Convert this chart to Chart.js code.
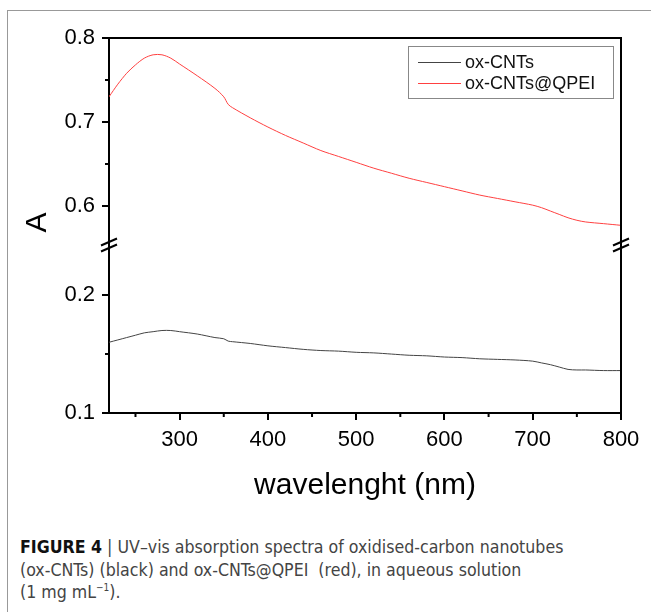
<!DOCTYPE html>
<html>
<head>
<meta charset="utf-8">
<script src="https://cdn.jsdelivr.net/npm/chart.js@4"></script>
<style>
  body { margin: 0; background: #fff; width: 651px; height: 612px; overflow: hidden; position: relative; }
  #frame { position: absolute; left: 7px; top: 10px; right: -2px; bottom: -2px; border-top: 1.5px solid #999; border-left: 1.5px solid #999; }
  #wrap { position: absolute; left: 0; top: 0; width: 651px; height: 520px; }
  #caption { position: absolute; left: 20px; top: 536px; width: 625px;
    font-family: "Liberation Sans Narrow", "DejaVu Sans Condensed", "Liberation Sans", sans-serif;
    font-size: 17.6px; line-height: 22.5px; color: #444; }
  #caption b { color: #111; }
  #caption sup { font-size: 10px; line-height: 0; }
</style>
</head>
<body>
<div id="frame"></div>
<div id="wrap"><canvas id="chart"></canvas></div>
<div id="caption"><b>FIGURE 4</b> | UV–vis absorption spectra of oxidised-carbon nanotubes<br>(ox-CNTs) (black) and ox-CNTs@QPEI&nbsp; (red), in aqueous solution<br>(1 mg mL<sup>−1</sup>).</div>
<script>
// ================= DATA =================
const wavelengths = [220, 230, 240, 250, 260, 270, 280, 290, 300, 320, 340, 350, 355, 360, 380,
    400, 420, 440, 460, 480, 500, 520, 540, 560, 580, 600, 620, 640, 660, 680,
    700, 710, 720, 730, 740, 750, 760, 780, 800];

const qpeiValues = [0.730, 0.745, 0.758, 0.768, 0.776, 0.780, 0.780, 0.776, 0.769, 0.755, 0.740, 0.730, 0.721, 0.717, 0.705,
    0.694, 0.684, 0.675, 0.666, 0.659, 0.652, 0.645, 0.639, 0.633, 0.628, 0.623, 0.618, 0.613, 0.609, 0.605,
    0.601, 0.598, 0.594, 0.590, 0.586, 0.583, 0.581, 0.579, 0.577];

const cntValues = [0.160, 0.162, 0.164, 0.166, 0.168, 0.169, 0.170, 0.170, 0.169, 0.167, 0.164, 0.163, 0.161, 0.1605, 0.159,
    0.157, 0.1555, 0.154, 0.153, 0.1525, 0.1515, 0.151, 0.150, 0.149, 0.1485, 0.1475, 0.147, 0.146, 0.1455, 0.145,
    0.144, 0.1425, 0.141, 0.139, 0.137, 0.1365, 0.1365, 0.136, 0.136];

const seriesLabels = ["ox-CNTs", "ox-CNTs@QPEI"];

const xTicks = [300, 400, 500, 600, 700, 800];
const xMinorTicks = [250, 350, 450, 550, 650, 750];
const yHighTicks = [0.6, 0.7, 0.8];
const yHighMinor = [0.65, 0.75];
const yLowTicks = [0.1, 0.2];
const yLowMinor = [0.15];

const FONT = "'Liberation Sans', Arial, sans-serif";

// ================= PLUGIN: frame, minor ticks, break, legend, y title =================
const extras = {
    id: "extras",
    afterDraw(chart) {
        const ctx = chart.ctx;
        const a = chart.chartArea;
        const xs = chart.scales.x, yh = chart.scales.yHigh, yl = chart.scales.yLow;
        ctx.save();

        // box around plot
        ctx.strokeStyle = "#000";
        ctx.lineWidth = 2;
        ctx.beginPath();
        ctx.moveTo(a.left, a.top);
        ctx.lineTo(a.right, a.top);
        ctx.lineTo(a.right, a.bottom);
        ctx.stroke();

        // minor ticks
        ctx.beginPath();
        xMinorTicks.forEach(v => {
            const px = xs.getPixelForValue(v);
            ctx.moveTo(px, a.bottom);
            ctx.lineTo(px, a.bottom + 4);
        });
        yHighMinor.forEach(v => {
            const py = yh.getPixelForValue(v);
            ctx.moveTo(a.left, py);
            ctx.lineTo(a.left - 4, py);
        });
        yLowMinor.forEach(v => {
            const py = yl.getPixelForValue(v);
            ctx.moveTo(a.left, py);
            ctx.lineTo(a.left - 4, py);
        });
        ctx.stroke();

        // axis break marks
        const by = yh.bottom - 2;
        [a.left, a.right].forEach(bx => {
            ctx.beginPath();
            ctx.lineWidth = 2;
            ctx.moveTo(bx - 8, by - 0.5);
            ctx.lineTo(bx + 8, by - 7.5);
            ctx.moveTo(bx - 8, by + 5.5);
            ctx.lineTo(bx + 8, by - 1.5);
            ctx.stroke();
        });

        // legend
        ctx.lineWidth = 1;
        ctx.strokeStyle = "#888";
        ctx.strokeRect(408.5, 46.5, 205, 52);
        ctx.font = "18px " + FONT;
        ctx.textBaseline = "middle";
        ctx.textAlign = "left";
        const rows = [62, 83];
        chart.data.datasets.forEach((ds, i) => {
            ctx.strokeStyle = ds.borderColor;
            ctx.beginPath();
            ctx.moveTo(418, rows[i] + 0.5);
            ctx.lineTo(461, rows[i] + 0.5);
            ctx.stroke();
            ctx.fillStyle = "#111";
            ctx.fillText(ds.label, 465, rows[i] + 1);
        });

        // y axis title
        ctx.translate(38, (a.top + a.bottom) / 2 - 3);
        ctx.rotate(-Math.PI / 2);
        ctx.textAlign = "center";
        ctx.font = "30px " + FONT;
        ctx.fillStyle = "#000";
        ctx.fillText("A", 0, 0);
        ctx.restore();
    }
};

function yScale(min, max, ticks, weight) {
    return {
        type: "linear",
        position: "left",
        stack: "abs",
        stackWeight: weight,
        min: min,
        max: max,
        afterFit: s => { s.width = 109; },
        afterBuildTicks: s => { s.ticks = ticks.map(v => ({ value: v })); },
        border: { color: "#000", width: 2 },
        grid: { drawOnChartArea: false, color: "#000", lineWidth: 2, tickLength: 7 },
        ticks: {
            color: "#000",
            padding: 7,
            font: { family: FONT, size: 22 },
            callback: v => v.toFixed(1)
        }
    };
}

new Chart(document.getElementById("chart"), {
    type: "line",
    data: {
        datasets: [
            {
                label: seriesLabels[0],
                data: wavelengths.map((w, i) => ({ x: w, y: cntValues[i] })),
                yAxisID: "yLow",
                borderColor: "#444",
                borderWidth: 1,
                pointRadius: 0,
                tension: 0.3
            },
            {
                label: seriesLabels[1],
                data: wavelengths.map((w, i) => ({ x: w, y: qpeiValues[i] })),
                yAxisID: "yHigh",
                borderColor: "#ff4040",
                borderWidth: 1,
                pointRadius: 0,
                tension: 0.3
            }
        ]
    },
    options: {
        responsive: true,
        maintainAspectRatio: false,
        animation: false,
        layout: { padding: { top: 38, right: 30, left: 0, bottom: 0 } },
        plugins: { legend: { display: false }, tooltip: { enabled: false } },
        scales: {
            x: {
                type: "linear",
                min: 220,
                max: 800,
                afterFit: s => { s.height = 107; },
                afterBuildTicks: s => { s.ticks = xTicks.map(v => ({ value: v })); },
                border: { color: "#000", width: 2 },
                grid: { drawOnChartArea: false, color: "#000", lineWidth: 2, tickLength: 7 },
                ticks: { color: "#000", padding: 7, maxRotation: 0, font: { family: FONT, size: 22 } },
                title: {
                    display: true,
                    text: "wavelenght (nm)",
                    color: "#000",
                    font: { family: FONT, size: 30 },
                    padding: { top: 0, bottom: 16 }
                }
            },
            yLow: yScale(0.1, 0.24, yLowTicks, 165),
            yHigh: yScale(0.55, 0.8, yHighTicks, 210)
        }
    },
    plugins: [extras]
});
</script>
</body>
</html>
